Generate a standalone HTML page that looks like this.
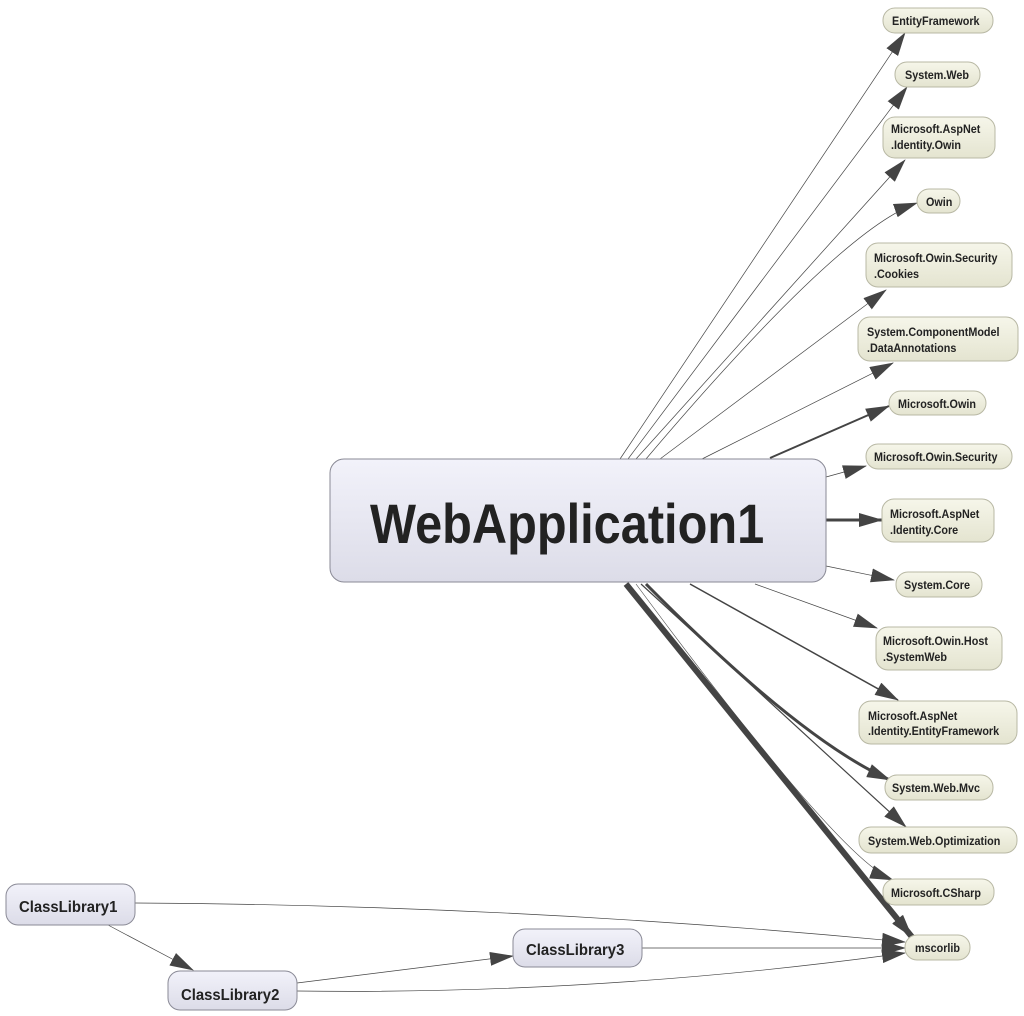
<!DOCTYPE html>
<html><head><meta charset="utf-8"><style>
html,body{margin:0;padding:0;background:#fff;}
svg{display:block;}
text{font-family:"Liberation Sans",sans-serif;font-weight:bold;fill:#222;}
</style></head><body>
<svg width="1024" height="1016" viewBox="0 0 1024 1016" xmlns="http://www.w3.org/2000/svg">
<defs>
<marker id="a" markerUnits="userSpaceOnUse" markerWidth="24" markerHeight="14" refX="23" refY="7" orient="auto"><path d="M0,0 L24,7 L0,14 z" fill="#444"/></marker>
<linearGradient id="g1" x1="0" y1="0" x2="0" y2="1"><stop offset="0" stop-color="#f6f6ea"/><stop offset="1" stop-color="#e4e4d0"/></linearGradient>
<linearGradient id="g2" x1="0" y1="0" x2="0" y2="1"><stop offset="0" stop-color="#f2f2fa"/><stop offset="1" stop-color="#dcdce8"/></linearGradient>
</defs>
<g fill="none" stroke="#444" marker-end="url(#a)">
<path d="M620,459 L905,33" stroke-width="0.7"/>
<path d="M628,459 L907,87" stroke-width="0.7"/>
<path d="M636,459 L905,160" stroke-width="0.7"/>
<path d="M646,459 Q840,230 917,203" stroke-width="0.7"/>
<path d="M660,459 L886,290" stroke-width="0.7"/>
<path d="M702,459 L893,363" stroke-width="0.7"/>
<path d="M770,458 L889,406" stroke-width="2"/>
<path d="M826,477 L866,466" stroke-width="0.7"/>
<path d="M826,520 L882,520" stroke-width="3"/>
<path d="M826,566 L894,580" stroke-width="0.7"/>
<path d="M755,584 L877,628" stroke-width="0.7"/>
<path d="M690,584 L898,700" stroke-width="1.5"/>
<path d="M646,584 Q800,740 890,780" stroke-width="3"/>
<path d="M641,584 L906,827" stroke-width="1.2"/>
<path d="M636,584 Q840,860 893,880" stroke-width="0.6"/>
<path d="M626,584 L912,937" stroke-width="6"/>
<path d="M135,903 Q520,905 905,942" stroke-width="0.7"/>
<path d="M108,925 L193,970" stroke-width="0.7"/>
<path d="M297,983 L513,956" stroke-width="0.7"/>
<path d="M297,991 Q600,995 905,953" stroke-width="0.7"/>
<path d="M642,948 L905,948" stroke-width="0.7"/>
</g>
<g stroke="#b8b8a4" stroke-width="1" fill="url(#g1)">
<rect x="883" y="8" width="110" height="25" rx="12"/>
<rect x="895" y="62" width="85" height="25" rx="12"/>
<rect x="883" y="117" width="112" height="41" rx="12"/>
<rect x="917" y="189" width="43" height="24" rx="12"/>
<rect x="866" y="243" width="146" height="44" rx="12"/>
<rect x="858" y="317" width="160" height="44" rx="12"/>
<rect x="889" y="391" width="97" height="24" rx="12"/>
<rect x="866" y="444" width="146" height="25" rx="12"/>
<rect x="882" y="499" width="112" height="43" rx="12"/>
<rect x="896" y="572" width="86" height="25" rx="12"/>
<rect x="876" y="627" width="126" height="43" rx="12"/>
<rect x="859" y="701" width="158" height="43" rx="12"/>
<rect x="885" y="775" width="108" height="25" rx="12"/>
<rect x="859" y="827" width="158" height="26" rx="12"/>
<rect x="883" y="879" width="111" height="26" rx="12"/>
<rect x="905" y="935" width="65" height="25" rx="12"/>
</g>
<g stroke="#8a8a96" stroke-width="1" fill="url(#g2)">
<rect x="330" y="459" width="496" height="123" rx="14"/>
<rect x="6" y="884" width="129" height="41" rx="12"/>
<rect x="168" y="971" width="129" height="39" rx="12"/>
<rect x="513" y="929" width="129" height="38" rx="12"/>
</g>
<g font-size="12">
<text transform="translate(892,25) scale(0.9,1)">EntityFramework</text>
<text transform="translate(905,79) scale(0.9,1)">System.Web</text>
<text transform="translate(891,133) scale(0.9,1)">Microsoft.AspNet</text><text transform="translate(891,149) scale(0.9,1)">.Identity.Owin</text>
<text transform="translate(926,206) scale(0.9,1)">Owin</text>
<text transform="translate(874,262) scale(0.9,1)">Microsoft.Owin.Security</text><text transform="translate(874,278) scale(0.9,1)">.Cookies</text>
<text transform="translate(867,336) scale(0.9,1)">System.ComponentModel</text><text transform="translate(867,352) scale(0.9,1)">.DataAnnotations</text>
<text transform="translate(898,408) scale(0.9,1)">Microsoft.Owin</text>
<text transform="translate(874,461) scale(0.9,1)">Microsoft.Owin.Security</text>
<text transform="translate(890,518) scale(0.9,1)">Microsoft.AspNet</text><text transform="translate(890,534) scale(0.9,1)">.Identity.Core</text>
<text transform="translate(904,589) scale(0.9,1)">System.Core</text>
<text transform="translate(883,645) scale(0.9,1)">Microsoft.Owin.Host</text><text transform="translate(883,661) scale(0.9,1)">.SystemWeb</text>
<text transform="translate(868,720) scale(0.9,1)">Microsoft.AspNet</text><text transform="translate(868,735) scale(0.9,1)">.Identity.EntityFramework</text>
<text transform="translate(892,792) scale(0.9,1)">System.Web.Mvc</text>
<text transform="translate(868,845) scale(0.9,1)">System.Web.Optimization</text>
<text transform="translate(891,897) scale(0.9,1)">Microsoft.CSharp</text>
<text transform="translate(915,952) scale(0.9,1)">mscorlib</text>
</g>
<text transform="translate(370,543) scale(0.87,1)" font-size="56" fill="#222">WebApplication1</text>
<g font-size="16">
<text transform="translate(19,912) scale(0.93,1)">ClassLibrary1</text>
<text transform="translate(181,1000) scale(0.93,1)">ClassLibrary2</text>
<text transform="translate(526,955) scale(0.93,1)">ClassLibrary3</text>
</g>
</svg>
</body></html>
